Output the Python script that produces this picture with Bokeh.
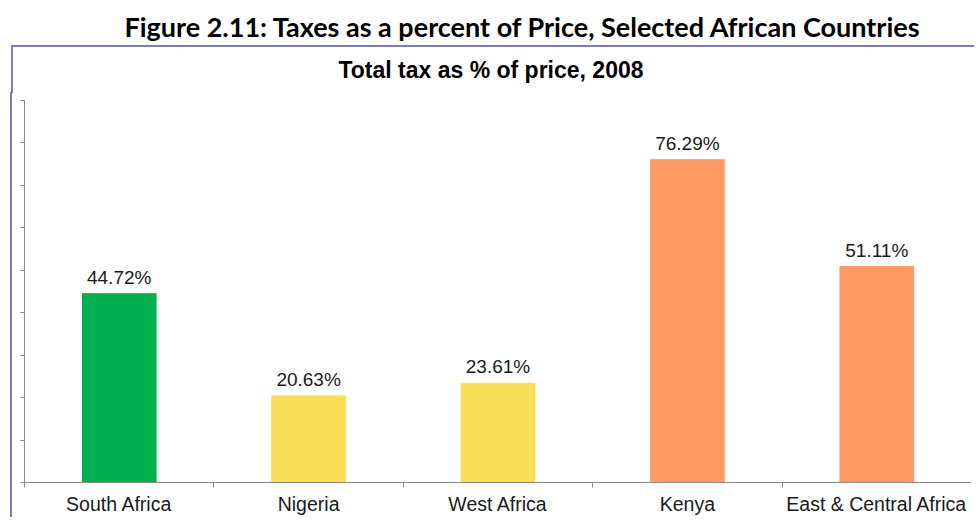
from bokeh.plotting import figure
from bokeh.models import Div, FixedTicker, LinearAxis, Range1d, ColumnDataSource, Spacer
from bokeh.layouts import column, row
from bokeh.core.properties import value
from bokeh.embed import file_html
from bokeh.resources import INLINE

# ---- data ----
countries = ["South Africa", "Nigeria", "West Africa", "Kenya", "East & Central Africa"]
tax_pct = [44.72, 20.63, 23.61, 76.29, 51.11]
bar_colors = ["#00B050", "#F9DF57", "#F9DF57", "#FF9966", "#FF9966"]
y_ticks = [0, 10, 20, 30, 40, 50, 60, 70, 80, 90]
main_title = "Figure 2.11: Taxes as a percent of Price, Selected African Countries"
chart_title = "Total tax as % of price, 2008"

n = len(countries)
x_pos = [i + 0.5 for i in range(n)]
boundaries = [float(i) for i in range(n + 1)]
labels = [f"{v:.2f}%" for v in tax_pct]
src = ColumnDataSource(dict(x=x_pos, top=tax_pct, color=bar_colors, label=labels))

BORDER = "#7b7db9"

header_html = (
    '<div style="position:relative;width:973px;height:82px;">'
    '<div style="position:absolute;left:66px;top:0;width:902px;height:37px;line-height:44px;'
    'text-align:center;font-family:Lato;font-weight:bold;font-size:27px;color:#000;'
    f'white-space:nowrap">{main_title}</div>'
    '<div style="position:absolute;left:6px;top:40px;width:963px;height:48px;box-sizing:border-box;'
    f'border-top:2px solid {BORDER};border-left:2px solid {BORDER}"></div>'
    '<div style="position:absolute;left:0;top:48px;width:972px;height:35px;line-height:35px;'
    "text-align:center;font-family:'Liberation Sans';font-weight:bold;font-size:23px;color:#000;"
    f'white-space:nowrap">{chart_title}</div>'
    '</div>'
)
header = Div(text=header_html, width=973, height=82)

p = figure(width=961, height=425, output_backend="svg", toolbar_location=None,
           x_range=Range1d(0, n), y_range=Range1d(0, y_ticks[-1]),
           x_axis_type=None, y_axis_type=None,
           min_border_left=12, min_border_right=2, min_border_top=8, min_border_bottom=33,
           outline_line_color=None, background_fill_color="white",
           styles={"border-left": f"2px solid {BORDER}"})

p.vbar(x="x", top="top", width=0.4, bottom=0, fill_color="color", line_color="white",
       line_width=1, source=src)
p.text(x="x", y="top", text="label", source=src, text_align="center", text_baseline="bottom",
       y_offset=-5, text_font=value("Liberation Sans"), text_font_size=value("19px"),
       text_color="#1a1a1a")

AX = "#8a8a8a"
xaxis = LinearAxis(ticker=FixedTicker(ticks=x_pos, minor_ticks=boundaries),
                   major_label_overrides={x: c for x, c in zip(x_pos, countries)},
                   major_tick_out=0, major_tick_in=0, minor_tick_out=5, minor_tick_in=0,
                   minor_tick_line_color=AX, axis_line_color=AX,
                   major_label_standoff=5, major_label_text_font="Liberation Sans",
                   major_label_text_font_size="19.5px", major_label_text_color="#1a1a1a")
p.add_layout(xaxis, "below")

yaxis = LinearAxis(ticker=FixedTicker(ticks=y_ticks, minor_ticks=[]),
                   major_label_overrides={t: "" for t in y_ticks},
                   major_tick_out=4, major_tick_in=0, minor_tick_out=0, minor_tick_in=0,
                   major_tick_line_color=AX, axis_line_color=AX,
                   major_label_text_color=None, major_label_standoff=0)
p.add_layout(yaxis, "left")

layout = column(header, row(Spacer(width=10), p, spacing=0), spacing=0)
open("out.html", "w").write(file_html(layout, INLINE))
